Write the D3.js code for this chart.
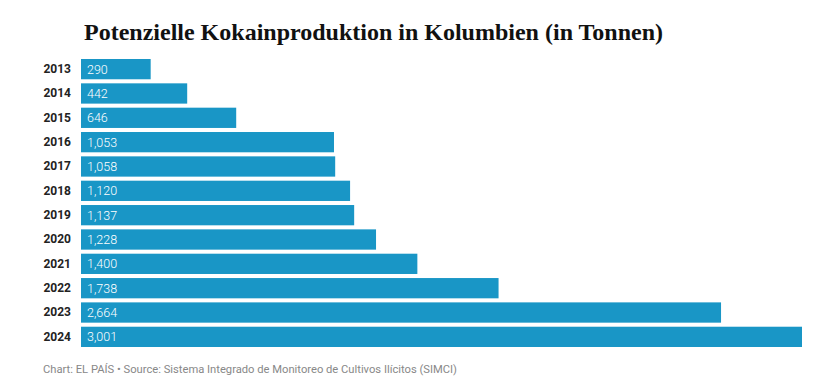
<!DOCTYPE html>
<html>
<head>
<meta charset="utf-8">
<script src="https://cdn.jsdelivr.net/npm/d3@7"></script>
<style>
  body { margin: 0; background: #fff; }
  svg { display: block; }
</style>
</head>
<body>
<div id="chart"></div>
<script>
// data
const years = ["2013", "2014", "2015", "2016", "2017", "2018", "2019", "2020", "2021", "2022", "2023", "2024"];
const tons = [290, 442, 646, 1053, 1058, 1120, 1137, 1228, 1400, 1738, 2664, 3001];

const W = 834, H = 377;
const margin = { top: 59, left: 81, right: 32 };
const step = 24;

const svg = d3.select("#chart").append("svg")
    .attr("width", W)
    .attr("height", H);

// title
svg.append("text")
    .attr("x", 84)
    .attr("y", 40)
    .attr("font-family", "'Liberation Serif', 'Times New Roman', serif")
    .attr("font-weight", "bold")
    .attr("font-size", 24)
    .attr("fill", "#111")
    .text("Potenzielle Kokainproduktion in Kolumbien (in Tonnen)");

const x = d3.scaleLinear()
    .domain([0, d3.max(tons)])
    .range([margin.left, W - margin.right]);

const y = d3.scaleBand()
    .domain(years)
    .range([margin.top, margin.top + step * years.length])
    .paddingInner(4 / 24)
    .paddingOuter(0);

const rows = years.map((yr, i) => ({ year: yr, value: tons[i] }));

// bars
svg.selectAll(".bar")
    .data(rows)
    .enter()
    .append("rect")
    .attr("class", "bar")
    .attr("x", x(0))
    .attr("y", d => y(d.year))
    .attr("width", d => x(d.value) - x(0))
    .attr("height", y.bandwidth())
    .attr("fill", "#1996c6");

// value labels inside the bars
svg.selectAll(".val")
    .data(rows)
    .enter()
    .append("text")
    .attr("class", "val")
    .attr("x", x(0) + 6)
    .attr("y", d => y(d.year) + y.bandwidth() / 2)
    .attr("dy", "0.36em")
    .attr("font-family", "Roboto, sans-serif")
    .attr("font-weight", 300)
    .attr("font-size", 12.5)
    .attr("fill", "#fff")
    .text(d => d3.format(",")(d.value));

// year axis
const yAxis = svg.append("g")
    .attr("transform", "translate(" + (margin.left - 10) + ",0)")
    .call(d3.axisLeft(y).tickSize(0).tickPadding(0));
yAxis.select(".domain").remove();
yAxis.selectAll("text")
    .attr("font-family", "Roboto, sans-serif")
    .attr("font-weight", "bold")
    .attr("font-size", 12)
    .attr("fill", "#222");

// footer
svg.append("text")
    .attr("x", 43)
    .attr("y", 373)
    .attr("font-family", "Roboto, sans-serif")
    .attr("font-size", 11.2)
    .attr("fill", "#888")
    .text("Chart: EL PAÍS • Source: Sistema Integrado de Monitoreo de Cultivos Ilícitos (SIMCI)");
</script>
</body>
</html>
